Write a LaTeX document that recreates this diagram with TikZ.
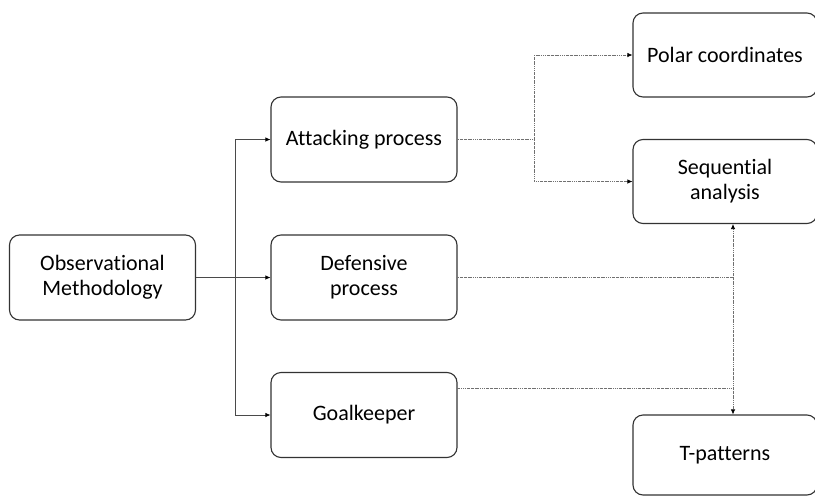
\documentclass[tikz,border=0pt]{standalone}
\usepackage{fontspec}
\setmainfont{Carlito}[Ligatures=NoCommon]
\usetikzlibrary{arrows.meta}
\definecolor{boxline}{HTML}{333333}
\definecolor{linkgray}{HTML}{4A4A4A}
\definecolor{dotgray}{HTML}{707070}
\begin{document}
\begin{tikzpicture}[x=1pt,y=-1pt,
  box/.style={draw=boxline,line width=1.1pt,rounded corners=10pt,
    minimum width=186pt,minimum height=85pt,inner sep=0pt,align=center,
    text=black,font=\fontsize{22}{25}\selectfont},
  rbox/.style={box,minimum width=184pt,minimum height=84pt},
  link/.style={draw=linkgray,line width=0.7pt,-{Latex[length=5pt,width=4.5pt,color=black]}},
  dotlink/.style={draw=dotgray,line width=0.7pt,
    dash pattern=on 1.6pt off 0.8pt on 0.6pt off 0.8pt},
  tip/.style={-{Latex[length=5pt,width=4.5pt,color=black]}},
  tips/.style={{Latex[length=5pt,width=4.5pt,color=black]}-{Latex[length=5pt,width=4.5pt,color=black]}}
]
\useasboundingbox (0,0) rectangle (815,496);

% left column
\node[box] (obs) at (102.5,277.5) {Observational\\Methodology};
% middle column
\node[box] (att) at (364,139.5) {Attacking process};
\node[box] (def) at (364,277.5) {Defensive\\process};
\node[box] (gk)  at (364,415) {Goalkeeper};
% right column
\node[rbox] (polar) at (725,55) {Polar coordinates};
\node[rbox] (seq)   at (725,181.5) {Sequential\\analysis};
\node[rbox,minimum height=80pt] (tp) at (725,455) {T-patterns};

% solid tree from the methodology box
\coordinate (split) at (235,277.5);
\draw[link] (obs.east) -- (def.west);
\draw[link] (split) |- (att.west);
\draw[link] (split) |- (gk.west);

% dotted links from the attacking process
\coordinate (abranch) at (534,139.5);
\draw[dotlink] (att.east) -- (abranch);
\draw[dotlink,tip] (abranch) |- (polar.west);
\draw[dotlink,tip] (abranch) |- (seq.west);

% dotted links from defence and goalkeeper
\coordinate (bus) at (733,277.5);
\coordinate (gkout) at (457,388);
\draw[dotlink] (def.east) -- (bus);
\draw[dotlink] (gkout) -- (gkout -| bus);
\draw[dotlink,tips] (seq.south -| bus) -- (tp.north -| bus);
\end{tikzpicture}
\end{document}
